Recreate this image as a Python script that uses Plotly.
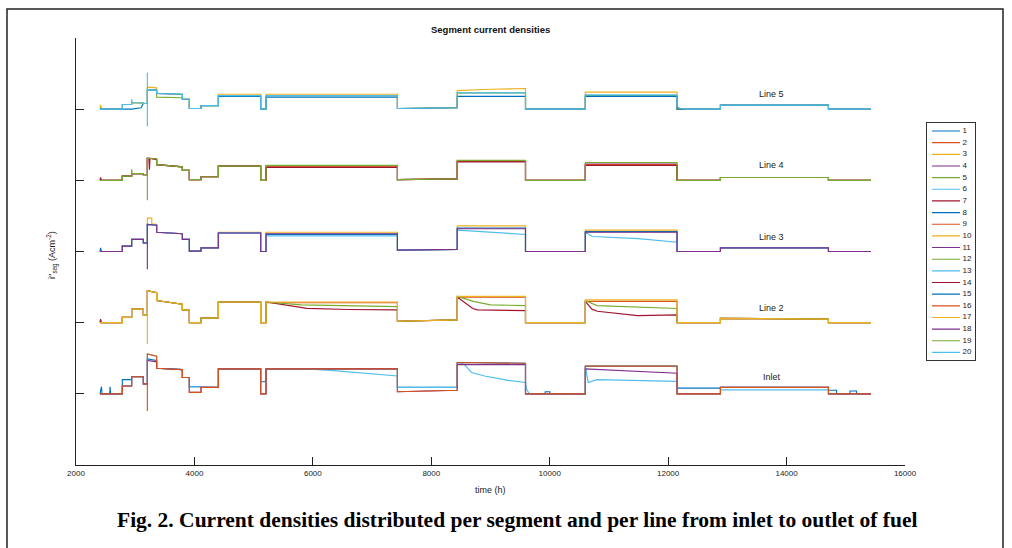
import plotly.graph_objects as go

# ---------------- data ----------------
# segment boundary times (h)
EDGES = [2405, 2782, 2940, 3137, 3205, 3362, 3796, 3914, 4111, 4404, 5119,
         5209, 7428, 8438, 9591, 10601, 12150, 12883, 14707, 15426]

X_TICKS = [2000, 4000, 6000, 8000, 10000, 12000, 14000, 16000]
X_TICK_LABELS = ["2000", "4000", "6000", "8000", "10000", "12000", "14000", "16000"]

LINE_NAMES = ["Inlet", "Line 2", "Line 3", "Line 4", "Line 5"]
LINE_OFFSETS = [1, 2, 3, 4, 5]
LABEL_TIME = 13750
LABEL_RISE = [0.24, 0.21, 0.21, 0.22, 0.22]

# segment start / end levels of each line (relative to its baseline)
INLET_START = [0, 0.11, 0.24, 0.14, 0.56, 0.36, 0.23, 0.02, 0.09, 0.35, 0, 0.35, 0.03, 0.44, 0, 0.39, 0, 0.09, 0]
INLET_END   = [0, 0.11, 0.24, 0.14, 0.53, 0.34, 0.23, 0.02, 0.09, 0.35, 0, 0.35, 0.05, 0.43, 0, 0.39, 0, 0.09, 0]
LINE2_START = [0, 0.075, 0.19, 0.11, 0.45, 0.31, 0.18, 0.0, 0.065, 0.29, 0, 0.29, 0.02, 0.37, 0, 0.32, 0, 0.06, 0]
LINE2_END   = [0, 0.075, 0.19, 0.11, 0.42, 0.26, 0.18, 0.0, 0.065, 0.29, 0, 0.29, 0.04, 0.37, 0, 0.32, 0, 0.05, 0]
LINE3_START = [0, 0.075, 0.17, 0.12, 0.38, 0.27, 0.17, 0.005, 0.05, 0.26, 0, 0.25, 0.02, 0.32, 0, 0.27, 0, 0.05, 0]
LINE3_END   = [0, 0.075, 0.17, 0.12, 0.37, 0.25, 0.17, 0.005, 0.05, 0.26, 0, 0.25, 0.03, 0.32, 0, 0.27, 0, 0.05, 0]
LINE4_START = [0, 0.06, 0.094, 0.08, 0.31, 0.22, 0.14, 0.01, 0.05, 0.20, 0, 0.21, 0.01, 0.28, 0, 0.25, 0, 0.04, 0]
LINE4_END   = [0, 0.06, 0.094, 0.08, 0.30, 0.19, 0.14, 0.01, 0.05, 0.20, 0, 0.21, 0.02, 0.28, 0, 0.25, 0, 0.04, 0]
LINE5_START = [0, 0.066, 0.09, 0.08, 0.27, 0.22, 0.14, 0.01, 0.05, 0.19, 0, 0.19, 0.01, 0.23, 0, 0.20, 0, 0.056, 0]
LINE5_END   = [0, 0.066, 0.09, 0.08, 0.27, 0.21, 0.14, 0.01, 0.05, 0.19, 0, 0.19, 0.02, 0.23, 0, 0.20, 0, 0.056, 0]

LINE_START = [INLET_START, LINE2_START, LINE3_START, LINE4_START, LINE5_START]
LINE_END = [INLET_END, LINE2_END, LINE3_END, LINE4_END, LINE5_END]

# segment number -> line index (segments 1..20)
SERIES = list(range(1, 21))
SERIES_LINE = [0, 1, 2, 3, 4] * 4

COLORS = ["#0072BD", "#D95319", "#EDB120", "#7E2F8E", "#77AC30", "#4DBEEE", "#A2142F"]

# per-series deviations: seg -> level, (start, end) or explicit [(t, v), ...]
OVERRIDES = {
    1: {0: [(2405, 0), (2430, 0.1), (2440, 0), (2570, 0), (2575, 0.1), (2585, 0), (2782, 0)],
        1: 0.2, 4: (0.49, 0.47), 7: 0.1, 10: 0.17, 12: 0.09,
        14: [(9591, 0), (9924, 0), (9924, 0.03), (10003, 0.03), (10003, 0), (10601, 0)],
        16: 0.08,
        18: [(14707, 0.05), (14844, 0.05), (14844, 0), (15071, 0), (15071, 0.04),
             (15181, 0.04), (15181, 0), (15426, 0)]},
    6: {7: 0.1, 11: [(5209, 0.35), (5900, 0.35), (6300, 0.33), (7428, 0.25)], 12: 0.09,
        13: [(8438, 0.44), (8550, 0.42), (8680, 0.30), (8900, 0.25), (9300, 0.19), (9591, 0.16)],
        14: [(9591, 0.16), (9610, 0.06), (9660, 0), (10601, 0)],
        15: [(10601, 0.39), (10650, 0.16), (10800, 0.2), (12150, 0.175)], 17: 0.055},
    11: {4: (0.47, 0.45), 13: 0.41, 15: (0.35, 0.29)},
    16: {},
    2: {11: 0.28, 13: 0.36, 15: 0.3},
    7: {0: [(2405, 0), (2415, 0.05), (2430, 0), (2782, 0)],
        11: [(5209, 0.29), (5900, 0.2), (6600, 0.185), (7428, 0.18)],
        13: [(8438, 0.36), (8700, 0.2), (8780, 0.18), (9591, 0.17)],
        15: [(10601, 0.3), (10712, 0.19), (10805, 0.16), (11482, 0.1), (12150, 0.11)]},
    12: {11: [(5209, 0.29), (5800, 0.25), (7428, 0.225)],
         13: [(8438, 0.37), (8710, 0.3), (9000, 0.25), (9591, 0.24)],
         15: [(10601, 0.31), (10800, 0.24), (12150, 0.2)]},
    17: {},
    3: {4: [(3205, 0.47), (3280, 0.47), (3280, 0.39), (3362, 0.38)], 9: 0.27, 11: 0.27,
        13: 0.36, 15: 0.3},
    8: {0: [(2405, 0), (2415, 0.05), (2430, 0), (2782, 0)], 11: 0.24, 13: 0.33, 15: 0.28},
    13: {11: 0.22, 13: [(8438, 0.3), (9591, 0.24)],
         15: [(10601, 0.27), (10720, 0.21), (11500, 0.18), (12100, 0.14), (12150, 0.13)]},
    18: {},
    4: {11: 0.2, 13: 0.27, 15: 0.23},
    9: {11: 0.19, 13: 0.27, 15: 0.22},
    14: {0: [(2405, 0), (2415, 0.04), (2430, 0), (2782, 0)],
         4: [(3205, 0.31), (3230, 0.31), (3240, 0.15), (3250, 0.31), (3362, 0.29)],
         11: 0.18, 13: 0.26, 15: 0.21},
    19: {2: [(2940, 0.155), (2950, 0.094), (3137, 0.094)]},
    5: {5: (0.17, 0.16), 15: 0.19},
    10: {0: [(2405, 0), (2412, 0.06), (2425, 0.03), (2440, 0), (2782, 0)],
         4: (0.31, 0.3), 9: 0.21, 11: 0.21,
         13: [(8438, 0.26), (9000, 0.28), (9591, 0.29)], 15: 0.24},
    15: {1: 0, 2: [(2940, 0), (3100, 0.02), (3137, 0.08)], 9: 0.18, 11: 0.17,
         13: 0.18, 15: 0.18},
    20: {2: [(2940, 0.14), (2950, 0.09), (3137, 0.09)],
         16: [(12150, 0.04), (12200, 0.01), (12300, 0), (12883, 0)]},
}

# vertical transients at t = 3205 h
SPIKES = {16: [-0.24], 17: [-0.30], 18: [-0.25], 19: [-0.28], 20: [-0.24, 0.51]}

# ---------------- figure ----------------
W, H = 1012, 548
FONT = "Liberation Sans"
fig = go.Figure()

for s in SERIES:
    li = SERIES_LINE[s - 1]
    off = LINE_OFFSETS[li]
    ov = OVERRIDES.get(s, {})
    xs, ys = [], []
    for i in range(len(EDGES) - 1):
        if i == 4 and s in SPIKES:
            for v in SPIKES[s]:
                xs.append(EDGES[4])
                ys.append(off + v)
        o = ov.get(i)
        if isinstance(o, list):
            pts = o
        elif isinstance(o, tuple):
            pts = [(EDGES[i], o[0]), (EDGES[i + 1], o[1])]
        elif o is not None:
            pts = [(EDGES[i], o), (EDGES[i + 1], o)]
        else:
            pts = [(EDGES[i], LINE_START[li][i]), (EDGES[i + 1], LINE_END[li][i])]
        for t, v in pts:
            xs.append(t)
            ys.append(off + v)
    fig.add_trace(go.Scatter(
        x=xs, y=ys, mode="lines", name=str(s), showlegend=False,
        line=dict(color=COLORS[(s - 1) % 7], width=1.15),
    ))

# legend drawn in its own small axes (entry index on y)
for s in SERIES:
    fig.add_trace(go.Scatter(
        x=[0.11, 0.69], y=[s, s], mode="lines", xaxis="x2", yaxis="y2", showlegend=False,
        line=dict(color=COLORS[(s - 1) % 7], width=1.15), hoverinfo="skip"))
fig.add_trace(go.Scatter(
    x=[0.74] * len(SERIES), y=SERIES, text=[str(s) for s in SERIES], mode="text",
    textposition="middle right", xaxis="x2", yaxis="y2", showlegend=False, cliponaxis=False,
    textfont=dict(size=8, color="#222", family=FONT), hoverinfo="skip"))

x0p, x1p = 76 / W, 905 / W
y0p, y1p = 1 - 465 / H, 1 - 38 / H

annotations = []
for li, name in enumerate(LINE_NAMES):
    annotations.append(dict(x=LABEL_TIME, y=LINE_OFFSETS[li] + LABEL_RISE[li], xref="x", yref="y",
                            xanchor="center", yanchor="middle",
                            text=name, showarrow=False, font=dict(size=9, color="#222", family=FONT)))
annotations += [
    dict(x=490.5 / W, y=1 - 30 / H, xref="paper", yref="paper", text="<b>Segment current densities</b>",
         xanchor="center", yanchor="middle",
         showarrow=False, font=dict(size=9.5, color="#111", family=FONT)),
    dict(x=52 / W, y=1 - 255 / H, xref="paper", yref="paper", textangle=-90,
         xanchor="center", yanchor="middle",
         text="i''<sub>seg</sub> (Acm<sup>-2</sup>)",
         showarrow=False, font=dict(size=9, color="#222", family=FONT)),
    dict(x=490.5 / W, y=1 - 490 / H, xref="paper", yref="paper", text="time (h)",
         xanchor="center", yanchor="middle",
         showarrow=False, font=dict(size=9, color="#222", family=FONT)),
    dict(x=516.5 / W, y=1 - 520 / H, xref="paper", yref="paper",
         xanchor="center", yanchor="middle",
         text="<b>Fig. 2. Current densities distributed per segment and per line from inlet to outlet of fuel</b>",
         showarrow=False, font=dict(size=21.5, color="#000", family="Liberation Serif")),
]

fig.update_layout(
    width=W, height=H, autosize=False,
    margin=dict(l=0, r=0, t=0, b=0, autoexpand=False),
    paper_bgcolor="white", plot_bgcolor="white",
    font=dict(family=FONT, size=8, color="#222"),
    showlegend=False,
    xaxis=dict(domain=[x0p, x1p], range=[2000, 16000], tickvals=X_TICKS, ticktext=X_TICK_LABELS,
               ticks="inside", ticklen=8, tickwidth=1.2, tickcolor="#222",
               showline=True, linecolor="#222", linewidth=1.3, showgrid=False, zeroline=False,
               tickfont=dict(size=8, color="#222", family=FONT)),
    yaxis=dict(domain=[y0p, y1p], range=[0, 6], tickvals=[0, 1, 2, 3, 4, 5, 6],
               ticks="inside", ticklen=8, tickwidth=1.2, tickcolor="#222",
               showticklabels=False, showline=True, linecolor="#222", linewidth=1.3,
               showgrid=False, zeroline=False),
    xaxis2=dict(domain=[926.7 / W, 975 / W], range=[0, 1], anchor="y2", showgrid=False, zeroline=False,
                showticklabels=False, ticks="", showline=True, mirror=True, linecolor="#333", linewidth=1),
    yaxis2=dict(domain=[1 - 360 / H, 1 - 123 / H], range=[20.65, 0.313], anchor="x2", showgrid=False,
                zeroline=False, showticklabels=False, ticks="", showline=True, mirror=True,
                linecolor="#333", linewidth=1),
    annotations=annotations,
    shapes=[dict(type="rect", xref="paper", yref="paper", x0=7 / W, x1=1003 / W, y0=-0.1, y1=1 - 9 / H,
                 line=dict(color="#222", width=1.5), fillcolor="rgba(0,0,0,0)", layer="below")],
)

fig.write_html("out.html", config={"displayModeBar": False},
               post_script="document.body.style.margin='0';document.body.style.overflow='hidden';")
